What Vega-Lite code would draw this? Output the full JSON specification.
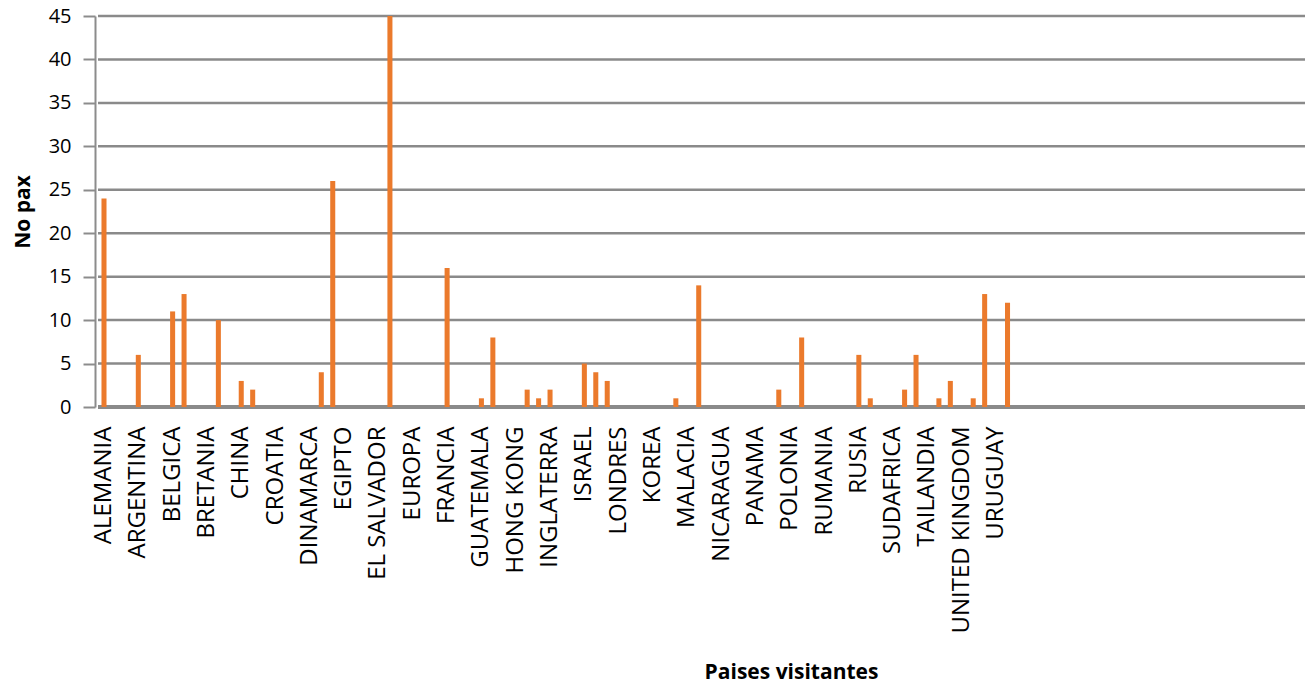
{
  "$schema": "https://vega.github.io/schema/vega-lite/v6.json",
  "width": 1207,
  "height": 391,
  "autosize": {"type": "none"},
  "padding": {"left": 98, "top": 16, "right": 1, "bottom": 278},
  "background": "white",
  "config": {
    "view": {"stroke": null},
    "font": "Open Sans",
    "axisY": {
      "title": "No pax",
      "values": [0, 5, 10, 15, 20, 25, 30, 35, 40, 45],
      "offset": 3,
      "tickSize": 12,
      "tickColor": "#8C8C8C",
      "tickWidth": 2,
      "domainColor": "#8C8C8C",
      "domainWidth": 2,
      "grid": false,
      "labelFont": "Open Sans",
      "labelFontSize": 20,
      "labelColor": "#000000",
      "labelPadding": 12,
      "titleFont": "Open Sans",
      "titleFontSize": 21,
      "titleFontWeight": "bold",
      "titleColor": "#000000",
      "titlePadding": 15
    }
  },
  "datasets": {
    "grid": [
      {"v": 0}, {"v": 5}, {"v": 10}, {"v": 15}, {"v": 20},
      {"v": 25}, {"v": 30}, {"v": 35}, {"v": 40}, {"v": 45}
    ],
    "paises": [
      {"pais": "ALEMANIA", "pax": 24},
      {"pais": "ANTILLAS", "pax": 0},
      {"pais": "ARABIA SAUDITA", "pax": 0},
      {"pais": "ARGENTINA", "pax": 6},
      {"pais": "AUSTRALIA", "pax": 0},
      {"pais": "AUSTRIA", "pax": 0},
      {"pais": "BELGICA", "pax": 11},
      {"pais": "BOLIVIA", "pax": 13},
      {"pais": "BRASIL", "pax": 0},
      {"pais": "BRETANIA", "pax": 0},
      {"pais": "BULGARIA", "pax": 10},
      {"pais": "CANADA", "pax": 0},
      {"pais": "CHINA", "pax": 3},
      {"pais": "COLOMBIA", "pax": 2},
      {"pais": "COSTA RICA", "pax": 0},
      {"pais": "CROATIA", "pax": 0},
      {"pais": "CUBA", "pax": 0},
      {"pais": "CURAZAO", "pax": 0},
      {"pais": "DINAMARCA", "pax": 0},
      {"pais": "ECUADOR", "pax": 4},
      {"pais": "EE.UU.", "pax": 26},
      {"pais": "EGIPTO", "pax": 0},
      {"pais": "EIRE", "pax": 0},
      {"pais": "EL CAIRO", "pax": 0},
      {"pais": "EL SALVADOR", "pax": 0},
      {"pais": "ESPAÑA", "pax": 45},
      {"pais": "ESTONIA", "pax": 0},
      {"pais": "EUROPA", "pax": 0},
      {"pais": "FILIPINAS", "pax": 0},
      {"pais": "FINLANDIA", "pax": 0},
      {"pais": "FRANCIA", "pax": 16},
      {"pais": "GRAN BRETAÑA", "pax": 0},
      {"pais": "GRECIA", "pax": 0},
      {"pais": "GUATEMALA", "pax": 1},
      {"pais": "HOLANDA", "pax": 8},
      {"pais": "HONDURAS", "pax": 0},
      {"pais": "HONG KONG", "pax": 0},
      {"pais": "HUNGRIA", "pax": 2},
      {"pais": "INDIA", "pax": 1},
      {"pais": "INGLATERRA", "pax": 2},
      {"pais": "IRLANDA", "pax": 0},
      {"pais": "ISLANDIA", "pax": 0},
      {"pais": "ISRAEL", "pax": 5},
      {"pais": "ITALIA", "pax": 4},
      {"pais": "JAPON", "pax": 3},
      {"pais": "LONDRES", "pax": 0},
      {"pais": "JORDANIA", "pax": 0},
      {"pais": "KENIA", "pax": 0},
      {"pais": "KOREA", "pax": 0},
      {"pais": "LETONIA", "pax": 0},
      {"pais": "LIBANO", "pax": 1},
      {"pais": "MALACIA", "pax": 0},
      {"pais": "MEXICO", "pax": 14},
      {"pais": "MONACO", "pax": 0},
      {"pais": "NICARAGUA", "pax": 0},
      {"pais": "NORUEGA", "pax": 0},
      {"pais": "NUEVA ZELANDA", "pax": 0},
      {"pais": "PANAMA", "pax": 0},
      {"pais": "PARAGUAY", "pax": 0},
      {"pais": "PERU", "pax": 2},
      {"pais": "POLONIA", "pax": 0},
      {"pais": "PORTUGAL", "pax": 8},
      {"pais": "PUERTO RICO", "pax": 0},
      {"pais": "RUMANIA", "pax": 0},
      {"pais": "REP. CHECA", "pax": 0},
      {"pais": "REP. DOMINICANA", "pax": 0},
      {"pais": "RUSIA", "pax": 6},
      {"pais": "SINGAPUR", "pax": 1},
      {"pais": "SUECIA", "pax": 0},
      {"pais": "SUDAFRICA", "pax": 0},
      {"pais": "SUIZA", "pax": 2},
      {"pais": "TAHITI", "pax": 6},
      {"pais": "TAILANDIA", "pax": 0},
      {"pais": "TAIWAN", "pax": 1},
      {"pais": "TURQUIA", "pax": 3},
      {"pais": "UNITED KINGDOM", "pax": 0},
      {"pais": "UCRANIA", "pax": 1},
      {"pais": "UNITED STATES", "pax": 13},
      {"pais": "URUGUAY", "pax": 0},
      {"pais": "USA", "pax": 12}
    ]
  },
  "layer": [
    {
      "data": {"name": "grid"},
      "mark": {"type": "rule", "color": "#8A8A8A"},
      "encoding": {
        "y": {"field": "v", "type": "quantitative", "title": "No pax", "scale": {"domain": [0, 45], "nice": false}},
        "strokeWidth": {"condition": {"test": "datum.v === 0", "value": 4}, "value": 2.5}
      }
    },
    {
      "data": {"name": "paises"},
      "mark": {"type": "bar", "color": "#EB7A2C", "strokeWidth": 0},
      "encoding": {
        "x": {
          "field": "pais",
          "type": "nominal",
          "sort": null,
          "scale": {"paddingInner": 0.56, "paddingOuter": 0, "rangeMin": 3.48, "rangeMax": 912.04, "round": false},
          "axis": {
            "title": "Paises visitantes",
            "values": ["ALEMANIA", "ARGENTINA", "BELGICA", "BRETANIA", "CHINA", "CROATIA", "DINAMARCA", "EGIPTO", "EL SALVADOR", "EUROPA", "FRANCIA", "GUATEMALA", "HONG KONG", "INGLATERRA", "ISRAEL", "LONDRES", "KOREA", "MALACIA", "NICARAGUA", "PANAMA", "POLONIA", "RUMANIA", "RUSIA", "SUDAFRICA", "TAILANDIA", "UNITED KINGDOM", "URUGUAY"],
            "labelAngle": -90,
            "labelAlign": "right",
            "labelBaseline": "middle",
            "labelFont": "Open Sans",
            "labelFontSize": 24,
            "labelColor": "#000000",
            "labelPadding": 19,
            "labelOverlap": false,
            "labelBound": false,
            "labelLimit": 0,
            "ticks": false,
            "domain": false,
            "titleFont": "Open Sans",
            "titleFontSize": 21,
            "titleFontWeight": "bold",
            "titleColor": "#000000",
            "titleX": 693,
            "titleY": 271,
            "titleAlign": "center",
            "titleBaseline": "alphabetic",
            "titleAnchor": null
          }
        },
        "y": {"field": "pax", "type": "quantitative", "title": "No pax", "scale": {"domain": [0, 45], "nice": false}}
      }
    }
  ]
}
